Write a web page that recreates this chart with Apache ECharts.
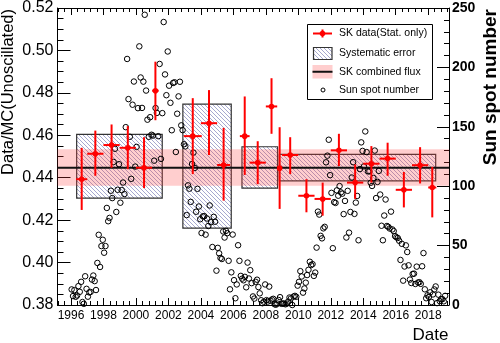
<!DOCTYPE html>
<html>
<head>
<meta charset="utf-8">
<script src="https://cdn.jsdelivr.net/npm/echarts@6/dist/echarts.min.js"></script>
<style>
    html, body { margin: 0; padding: 0; background: #fff; }
    #chart { width: 500px; height: 343px; }
</style>
</head>
<body>
<div id="chart"></div>
<script>
// x axis tick labels (years)
const yearTicks = [1996, 1998, 2000, 2002, 2004, 2006, 2008, 2010, 2012, 2014, 2016, 2018]

// SK data points (stat. errors only)
const skYear = [1996.66, 1997.5, 1998.5, 1999.5, 2000.5, 2001.2, 2003.5, 2004.5, 2005.4, 2006.7, 2007.5, 2008.35,
    2008.85, 2009.5, 2010.5, 2011.5, 2012.5, 2013.5, 2014.5, 2015.5, 2016.5, 2017.5, 2018.25]
const skYearErr = [0.34, 0.5, 0.5, 0.5, 0.5, 0.2, 0.55, 0.5, 0.4, 0.3, 0.5, 0.35,
    0.15, 0.5, 0.5, 0.5, 0.5, 0.5, 0.5, 0.5, 0.5, 0.5, 0.25]
const skValue = [0.4393, 0.4513, 0.4554, 0.4541, 0.4447, 0.4810, 0.4596, 0.4657, 0.4460, 0.4596, 0.4471, 0.4736,
    0.4445, 0.4507, 0.4315, 0.4300, 0.4529, 0.4377, 0.4466, 0.4490, 0.4343, 0.4459, 0.4354]
const skErrLow = [0.4248, 0.4409, 0.4447, 0.4440, 0.4351, 0.4671, 0.4417, 0.4507, 0.4292, 0.4413, 0.4370, 0.4607,
    0.4253, 0.4417, 0.4237, 0.4221, 0.4455, 0.4300, 0.4377, 0.4409, 0.4260, 0.4373, 0.4213]
const skErrHigh = [0.4541, 0.4622, 0.4651, 0.4643, 0.4591, 0.4947, 0.4775, 0.4813, 0.4635, 0.4783, 0.4572, 0.4869,
    0.4638, 0.4591, 0.4393, 0.4377, 0.4607, 0.4463, 0.4549, 0.4565, 0.4427, 0.4544, 0.4451]

// systematic error boxes (SK-I .. SK-IV)
const sysStart = [1996.35, 2002.89, 2006.53, 2008.83]
const sysEnd = [2001.62, 2005.87, 2008.72, 2018.46]
const sysLow = [0.4304, 0.4162, 0.4351, 0.4385]
const sysHigh = [0.4604, 0.4747, 0.4546, 0.4510]

// SK combined flux
const combinedFlux = 0.4447
const combinedLow = 0.4362
const combinedHigh = 0.4534

// monthly sun spot number, from Jan 1996
const sunspotStartYear = 1996
const sunspotMonthly = [
    13.1, 7.5, 12.5, 6.9, 8.0, 15.9, 11.1, 19.5, 2.5, 1.0, 24.2, 13.6,
    7.0, 10.6, 11.0, 21.4, 24.8, 20.1, 12.6, 35.4, 59.1, 32.0, 49.6, 54.9,
    44.0, 49.6, 81.7, 70.5, 73.3, 96.2, 90.0, 120.4, 131.5, 78.3, 97.0, 118.5,
    86.1, 96.7, 103.1, 93.4, 149.7, 207.1, 173.3, 141.6, 106.2, 168.6, 188.1, 116.5,
    133.1, 165.7, 217.7, 191.5, 165.9, 188.0, 244.3, 180.5, 156.0, 141.6, 158.1, 143.3,
    142.6, 121.5, 165.8, 161.7, 142.1, 202.9, 123.0, 161.5, 238.2, 194.1, 176.6, 213.4,
    184.6, 170.2, 147.1, 186.9, 187.5, 128.8, 161.0, 175.6, 187.9, 151.2, 147.2, 135.3,
    133.5, 75.7, 100.7, 97.9, 86.8, 118.7, 128.3, 115.4, 78.5, 97.8, 82.9, 72.2,
    60.6, 74.6, 74.8, 59.2, 72.8, 66.5, 83.8, 69.7, 48.8, 74.2, 70.1, 28.9,
    48.1, 43.5, 39.6, 38.7, 61.9, 56.8, 62.4, 60.5, 37.2, 13.2, 27.5, 59.3,
    20.9, 5.7, 17.3, 50.3, 37.2, 24.5, 22.2, 20.8, 23.7, 14.9, 35.7, 22.3,
    29.3, 18.4, 7.2, 5.4, 19.5, 21.3, 15.1, 9.8, 4.0, 1.5, 2.8, 17.3,
    4.1, 2.9, 15.5, 3.6, 4.6, 5.2, 0.6, 0.3, 1.2, 4.2, 6.6, 1.0,
    1.3, 1.2, 0.6, 1.2, 2.9, 6.3, 5.5, 0.0, 7.1, 7.7, 6.9, 16.3,
    19.5, 28.5, 24.0, 10.4, 13.9, 18.8, 25.2, 29.6, 36.4, 33.6, 34.4, 24.5,
    27.3, 48.3, 78.6, 76.1, 58.2, 56.1, 64.5, 65.8, 120.1, 125.7, 139.1, 109.3,
    94.4, 47.8, 86.6, 85.9, 96.5, 92.0, 100.1, 94.8, 93.7, 76.5, 87.6, 56.8,
    96.1, 60.9, 78.3, 107.3, 120.2, 76.7, 86.2, 91.8, 54.5, 114.4, 136.9, 129.7,
    116.7, 146.1, 128.7, 112.5, 112.5, 102.9, 100.2, 106.9, 130.0, 90.0, 103.6, 112.9,
    93.0, 66.7, 54.5, 75.3, 88.8, 66.5, 65.8, 64.4, 78.6, 63.6, 62.2, 58.0,
    57.0, 56.4, 54.1, 37.9, 51.5, 20.5, 32.4, 50.2, 44.6, 33.4, 21.4, 18.5,
    26.1, 26.4, 17.7, 32.3, 18.9, 19.2, 17.8, 32.6, 43.7, 13.2, 5.7, 8.2,
    6.8, 10.7, 2.5, 8.9, 13.1, 15.6, 1.6, 8.7, 3.3, 4.9, 4.9, 3.1,
    7.7
]

const X_MIN = 1995.17
const X_MAX = 2019.28
const FONT = 'Liberation Sans, Arial, sans-serif'
const RED = '#ff0000'
const BAND = 'rgba(255, 60, 60, 0.25)'

// minor tick positions on the time axis (5 per 2 years)
const minorTicks = []
for (let t = 1994.8; t < X_MAX; t += 0.4) {
    if (t > X_MIN) minorTicks.push(+t.toFixed(2))
}

function makeHatch() {
    const c = document.createElement('canvas')
    c.width = 4
    c.height = 4
    const ctx = c.getContext('2d')
    ctx.strokeStyle = '#9c9ec9'
    ctx.lineWidth = 0.9
    ctx.beginPath()
    ctx.moveTo(-1, -1); ctx.lineTo(5, 5)
    ctx.moveTo(-1, 3); ctx.lineTo(1, 5)
    ctx.moveTo(3, -1); ctx.lineTo(5, 1)
    ctx.stroke()
    return c
}
const hatch = { image: makeHatch(), repeat: 'repeat' }

const sunspotPoints = sunspotMonthly.map((v, i) => [sunspotStartYear + (i + 0.5) / 12, v])
const skPoints = skYear.map((x, i) => [x, skValue[i], skYearErr[i], skErrLow[i], skErrHigh[i]])
const sysBoxes = sysStart.map((s, i) => [s, sysEnd[i], sysLow[i], sysHigh[i]])

function timeAxis(position, major, showLabel) {
    return {
        type: 'value',
        position: position,
        min: X_MIN,
        max: X_MAX,
        axisLine: { show: major, onZero: false, lineStyle: { color: '#000', width: 1 } },
        axisTick: {
            inside: true,
            length: major ? 7 : 4,
            customValues: major ? yearTicks : minorTicks,
            lineStyle: { color: '#000', width: 1 }
        },
        axisLabel: {
            show: showLabel,
            customValues: yearTicks,
            formatter: v => String(Math.round(v)),
            fontFamily: FONT,
            fontSize: 12,
            color: '#000',
            margin: 5
        },
        splitLine: { show: false }
    }
}

const chart = echarts.init(document.getElementById('chart'))
const option = {
    animation: false,
    backgroundColor: '#fff',
    grid: { left: 57.5, right: 51, top: 6.5, bottom: 38 },
    xAxis: [
        timeAxis('bottom', true, true),
        timeAxis('bottom', false, false),
        timeAxis('top', true, false),
        timeAxis('top', false, false)
    ],
    yAxis: [
        {
            type: 'value',
            position: 'left',
            min: 0.38,
            max: 0.52,
            interval: 0.02,
            axisLine: { show: true, lineStyle: { color: '#000', width: 1 } },
            axisTick: { inside: true, length: 13, lineStyle: { color: '#000' } },
            minorTick: { show: true, splitNumber: 4, length: 6, lineStyle: { color: '#000' } },
            axisLabel: {
                formatter: v => v.toFixed(2),
                fontFamily: FONT,
                fontSize: 16,
                color: '#000',
                margin: 4
            },
            splitLine: { show: false }
        },
        {
            type: 'value',
            position: 'right',
            min: 0,
            max: 250,
            interval: 50,
            alignTicks: false,
            axisLine: { show: true, lineStyle: { color: '#000', width: 1 } },
            axisTick: { inside: true, length: 12, lineStyle: { color: '#000' } },
            minorTick: { show: true, splitNumber: 5, length: 5, lineStyle: { color: '#000' } },
            axisLabel: {
                fontFamily: FONT,
                fontSize: 14,
                fontWeight: 'bold',
                color: '#000',
                margin: 3
            },
            splitLine: { show: false }
        }
    ],
    series: [
        {
            name: 'Systematic error',
            type: 'custom',
            z: 1,
            data: sysBoxes,
            renderItem: (params, api) => {
                const p1 = api.coord([api.value(0), api.value(3)])
                const p2 = api.coord([api.value(1), api.value(2)])
                return {
                    type: 'rect',
                    shape: { x: p1[0], y: p1[1], width: p2[0] - p1[0], height: p2[1] - p1[1] },
                    style: { fill: hatch, stroke: '#333', lineWidth: 1.2 }
                }
            }
        },
        {
            name: 'SK combined flux',
            type: 'custom',
            z: 2,
            data: [[combinedLow, combinedHigh, combinedFlux]],
            renderItem: (params, api) => {
                const cs = params.coordSys
                const top = api.coord([X_MIN, api.value(1)])[1]
                const bottom = api.coord([X_MIN, api.value(0)])[1]
                const mid = api.coord([X_MIN, api.value(2)])[1]
                return {
                    type: 'group',
                    children: [
                        {
                            type: 'rect',
                            shape: { x: cs.x, y: top, width: cs.width, height: bottom - top },
                            style: { fill: BAND }
                        },
                        {
                            type: 'line',
                            shape: { x1: cs.x, y1: mid, x2: cs.x + cs.width, y2: mid },
                            style: { stroke: '#111', lineWidth: 2 }
                        }
                    ]
                }
            }
        },
        {
            name: 'Sun spot number',
            type: 'scatter',
            yAxisIndex: 1,
            z: 3,
            symbol: 'circle',
            symbolSize: 5.5,
            itemStyle: { color: 'rgba(0,0,0,0)', borderColor: '#000', borderWidth: 1, opacity: 1 },
            data: sunspotPoints
        },
        {
            name: 'SK data(Stat. only)',
            type: 'custom',
            z: 4,
            data: skPoints,
            renderItem: (params, api) => {
                const x = api.value(0)
                const y = api.value(1)
                const c = api.coord([x, y])
                const left = api.coord([x - api.value(2), y])
                const right = api.coord([x + api.value(2), y])
                const lo = api.coord([x, api.value(3)])
                const hi = api.coord([x, api.value(4)])
                return {
                    type: 'group',
                    children: [
                        {
                            type: 'line',
                            shape: { x1: left[0], y1: c[1], x2: right[0], y2: c[1] },
                            style: { stroke: RED, lineWidth: 2 }
                        },
                        {
                            type: 'line',
                            shape: { x1: c[0], y1: lo[1], x2: c[0], y2: hi[1] },
                            style: { stroke: RED, lineWidth: 2 }
                        },
                        {
                            type: 'circle',
                            shape: { cx: c[0], cy: c[1], r: 2.8 },
                            style: { fill: RED }
                        }
                    ]
                }
            }
        }
    ],
    graphic: [
        {
            type: 'text', x: 8, y: 9, rotation: Math.PI / 2, z: 10,
            style: {
                text: 'Data/MC(Unoscillated)', fontFamily: FONT, fontSize: 16.5, fill: '#000',
                align: 'right', verticalAlign: 'middle'
            }
        },
        {
            type: 'text', x: 491, y: 9, rotation: Math.PI / 2, z: 10,
            style: {
                text: 'Sun spot number', fontFamily: FONT, fontSize: 19, fontWeight: 'bold', fill: '#000',
                align: 'right', verticalAlign: 'middle'
            }
        },
        {
            type: 'text', x: 448.5, y: 335, z: 10,
            style: {
                text: 'Date', fontFamily: FONT, fontSize: 17, fill: '#000',
                align: 'right', verticalAlign: 'middle'
            }
        },
        // legend
        {
            type: 'group', z: 20,
            children: [
                {
                    type: 'rect', shape: { x: 307.5, y: 24.5, width: 125, height: 75 },
                    style: { fill: '#fff', stroke: '#000', lineWidth: 1 }
                },
                { type: 'line', shape: { x1: 313, y1: 33.5, x2: 332, y2: 33.5 }, style: { stroke: RED, lineWidth: 2 } },
                { type: 'line', shape: { x1: 322.5, y1: 29.5, x2: 322.5, y2: 37.5 }, style: { stroke: RED, lineWidth: 2 } },
                { type: 'circle', shape: { cx: 322.5, cy: 33.5, r: 2.8 }, style: { fill: RED } },
                {
                    type: 'text', x: 339, y: 33.5,
                    style: { text: 'SK data(Stat. only)', fontFamily: FONT, fontSize: 10.5, fill: '#000', verticalAlign: 'middle' }
                },
                {
                    type: 'rect', shape: { x: 313.5, y: 47.5, width: 18.5, height: 12 },
                    style: { fill: hatch, stroke: '#333', lineWidth: 1.2 }
                },
                {
                    type: 'text', x: 339, y: 53.5,
                    style: { text: 'Systematic error', fontFamily: FONT, fontSize: 10.5, fill: '#000', verticalAlign: 'middle' }
                },
                { type: 'rect', shape: { x: 312.5, y: 65, width: 20, height: 13.5 }, style: { fill: BAND } },
                { type: 'line', shape: { x1: 312.5, y1: 71.75, x2: 332.5, y2: 71.75 }, style: { stroke: '#111', lineWidth: 2 } },
                {
                    type: 'text', x: 339, y: 72,
                    style: { text: 'SK combined flux', fontFamily: FONT, fontSize: 10.5, fill: '#000', verticalAlign: 'middle' }
                },
                { type: 'circle', shape: { cx: 323, cy: 90, r: 2 }, style: { fill: 'none', stroke: '#000', lineWidth: 1 } },
                {
                    type: 'text', x: 339, y: 90,
                    style: { text: 'Sun spot number', fontFamily: FONT, fontSize: 10.5, fill: '#000', verticalAlign: 'middle' }
                }
            ]
        }
    ]
}
chart.setOption(option)
window.addEventListener('resize', () => chart.resize())
</script>
</body>
</html>
